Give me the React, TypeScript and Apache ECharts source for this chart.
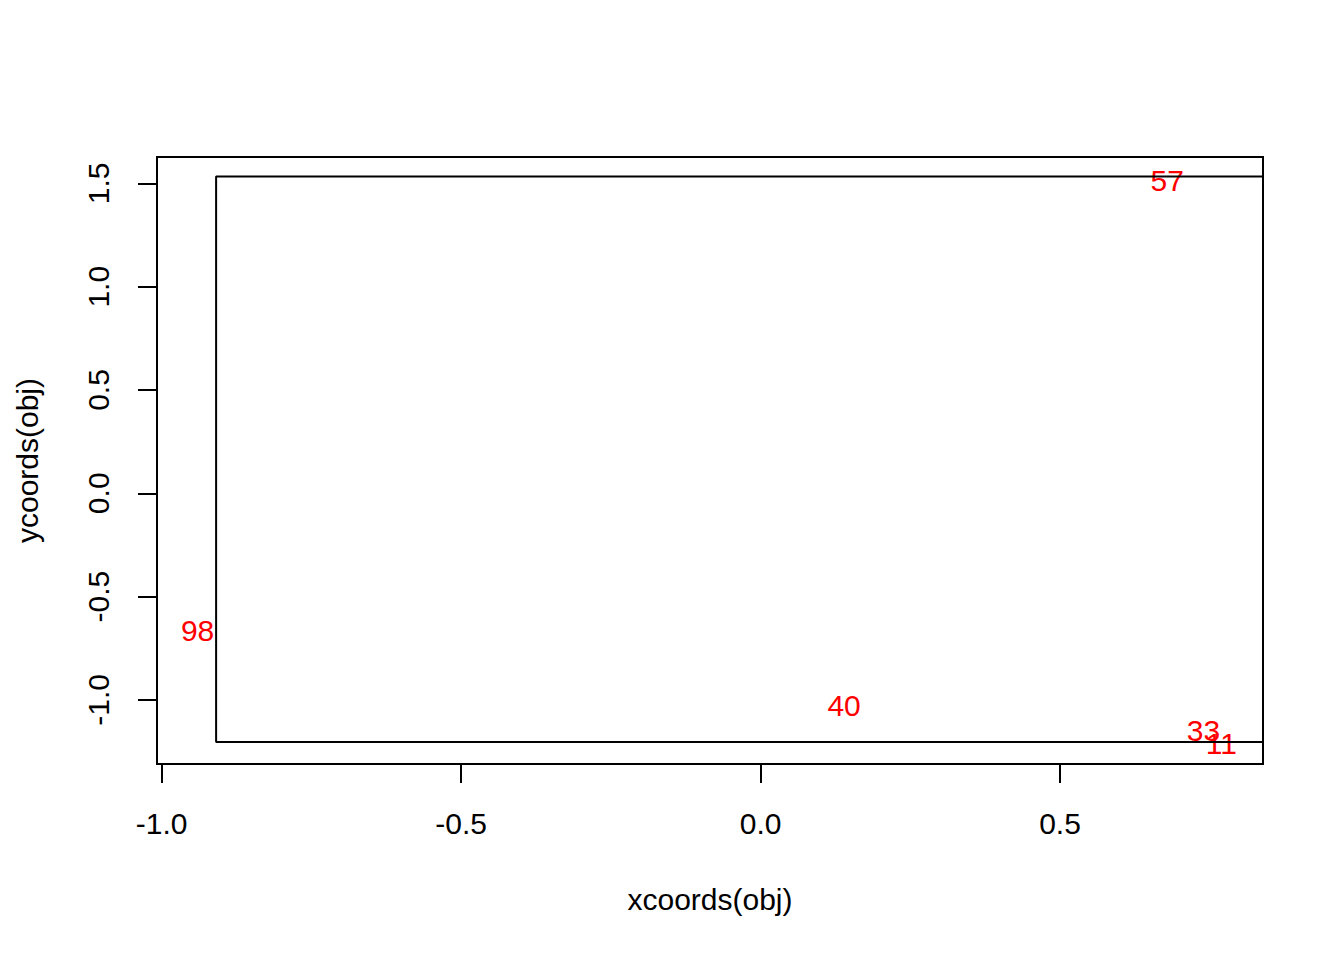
import React, { useEffect, useRef } from "react";
import * as echarts from "echarts";

// Axis ranges and tick values
const xRange = [-1.0078, 0.8389];
const yRange = [-1.3106, 1.628];
const xTicks = [-1.0, -0.5, 0.0, 0.5];
const yTicks = [-1.0, -0.5, 0.0, 0.5, 1.0, 1.5];

// Path (segments) drawn by lines()
const pathX = [1.2, -0.9091, -0.9091, 1.2];
const pathY = [1.534, 1.534, -1.2039, -1.2039];

// Text labels placed by text()
const labelNames = ["57", "98", "40", "33", "11"];
const labelX = [0.679, -0.940, 0.1395, 0.7395, 0.7695];
const labelY = [1.515, -0.663, -1.029, -1.150, -1.211];

const FONT = "'Liberation Sans', Arial, sans-serif";

export default function App() {
  const ref = useRef<HTMLDivElement>(null);
  useEffect(() => {
    if (!ref.current) return;
    const chart = echarts.init(ref.current, null, { renderer: "svg" });
    const pathData = pathX.map((x, i) => [x, pathY[i]]);
    const labelData = labelNames.map((n, i) => ({ name: n, value: [labelX[i], labelY[i]] }));
    chart.setOption({
      animation: false,
      backgroundColor: "#ffffff",
      textStyle: { fontFamily: FONT },
      grid: {
        left: 157,
        top: 157,
        width: 1106,
        height: 607,
        show: true,
        borderColor: "#000",
        borderWidth: 2,
        backgroundColor: "transparent",
      },
      xAxis: {
        type: "value",
        min: xRange[0],
        max: xRange[1],
        splitLine: { show: false },
        axisLine: { show: true, onZero: false, lineStyle: { color: "#000", width: 2 } },
        axisTick: {
          show: true,
          customValues: xTicks,
          length: 19,
          lineStyle: { color: "#000", width: 2 },
        },
        axisLabel: {
          customValues: xTicks,
          formatter: (v: number) => v.toFixed(1),
          color: "#000",
          fontSize: 30,
          fontFamily: FONT,
          margin: 44,
        },
        name: "xcoords(obj)",
        nameLocation: "middle",
        nameGap: 120,
        nameTextStyle: { color: "#000", fontSize: 30, fontFamily: FONT },
      },
      yAxis: {
        type: "value",
        min: yRange[0],
        max: yRange[1],
        splitLine: { show: false },
        axisLine: { show: true, onZero: false, lineStyle: { color: "#000", width: 2 } },
        axisTick: {
          show: true,
          customValues: yTicks,
          length: 19,
          lineStyle: { color: "#000", width: 2 },
        },
        axisLabel: {
          customValues: yTicks,
          formatter: (v: number) => v.toFixed(1),
          color: "#000",
          fontSize: 30,
          fontFamily: FONT,
          rotate: 90,
          margin: 44,
        },
        name: "ycoords(obj)",
        nameLocation: "middle",
        nameGap: 115,
        nameRotate: 90,
        nameTextStyle: { color: "#000", fontSize: 30, fontFamily: FONT },
      },
      series: [
        {
          type: "line",
          data: pathData,
          symbol: "none",
          clip: true,
          lineStyle: { color: "#000", width: 2 },
          silent: true,
        },
        {
          type: "scatter",
          data: labelData,
          symbolSize: 0,
          clip: false,
          itemStyle: { opacity: 1, color: "#ff0000" },
          label: {
            show: true,
            position: "inside",
            formatter: (p: any) => p.name,
            color: "#ff0000",
            opacity: 1,
            fontSize: 30,
            fontFamily: FONT,
          },
          silent: true,
        },
      ],
    });
    return () => chart.dispose();
  }, []);
  return (
    <div
      ref={ref}
      style={{ position: "absolute", left: 0, top: 0, width: 1344, height: 960, background: "#fff" }}
    />
  );
}
